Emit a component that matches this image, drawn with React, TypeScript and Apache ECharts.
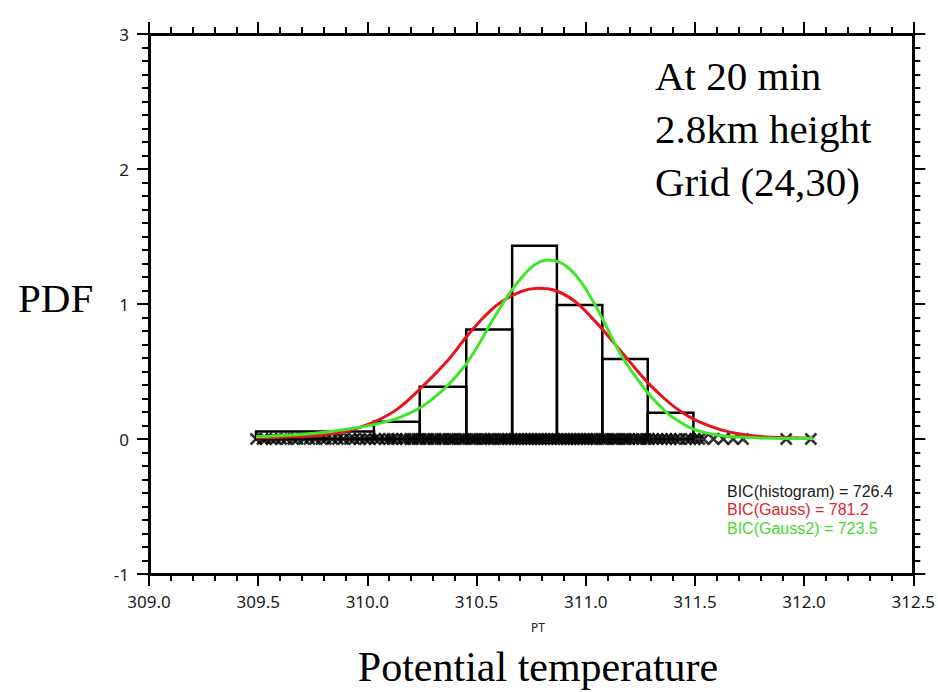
import React, { useEffect, useRef } from "react";
import * as echarts from "echarts";

// Histogram bins: [left edge, right edge, density]
const histBins: number[][] = [
  [309.49, 310.03, 0.055],
  [310.03, 310.24, 0.128],
  [310.24, 310.453, 0.387],
  [310.453, 310.663, 0.812],
  [310.663, 310.868, 1.432],
  [310.868, 311.076, 0.993],
  [311.076, 311.284, 0.593],
  [311.284, 311.493, 0.195],
];

// Single Gaussian fit (red)
const gaussCurve: number[][] = [
  [309.49, 0.01], [309.6, 0.013], [309.76, 0.024], [309.85, 0.042], [309.92, 0.064],
  [310.04, 0.133], [310.14, 0.225], [310.25, 0.385], [310.37, 0.585], [310.45, 0.75],
  [310.52, 0.88], [310.6, 1.0], [310.7, 1.09], [310.78, 1.116], [310.86, 1.1],
  [310.95, 1.02], [311.05, 0.86], [311.13, 0.71], [311.2, 0.575], [311.28, 0.425],
  [311.36, 0.3], [311.43, 0.21], [311.51, 0.135], [311.62, 0.068], [311.72, 0.033],
  [311.85, 0.013], [312.04, 0.006],
];

// Two-component Gaussian mixture fit (green)
const gauss2Curve: number[][] = [
  [309.49, 0.017], [309.65, 0.03], [309.76, 0.042], [309.92, 0.076], [310.04, 0.11],
  [310.14, 0.155], [310.24, 0.23], [310.3, 0.3], [310.37, 0.4], [310.45, 0.55],
  [310.51, 0.7], [310.57, 0.87], [310.66, 1.1], [310.75, 1.27], [310.825, 1.326],
  [310.88, 1.31], [310.93, 1.255], [310.98, 1.16], [311.03, 1.03], [311.08, 0.88],
  [311.17, 0.6], [311.28, 0.35], [311.34, 0.245], [311.39, 0.17], [311.49, 0.075],
  [311.6, 0.03], [311.7, 0.014], [311.85, 0.005], [312.04, 0.003],
];

// Observed samples (rug marks on y = 0)
const samples: number[] = [
  309.49, 309.52, 309.535, 309.56, 309.58, 309.605, 309.63, 309.66, 309.68, 309.71,
  309.735, 309.76, 309.79, 309.81, 309.84, 309.865, 309.89, 309.92, 309.94, 309.965,
  309.99, 310.01, 310.035, 310.055, 310.08, 310.1, 310.115, 310.135, 310.16, 310.175,
  310.195, 310.21, 310.23, 310.245, 310.265, 310.28, 310.3, 310.315, 310.335, 310.35,
  310.37, 310.385, 310.4, 310.42, 310.435, 310.45, 310.47, 310.485, 310.5, 310.52,
  310.535, 310.55, 310.565, 310.58, 310.6, 310.615, 310.63, 310.645, 310.66, 310.675,
  310.69, 310.705, 310.72, 310.735, 310.75, 310.765, 310.78, 310.795, 310.81, 310.825,
  310.84, 310.855, 310.87, 310.885, 310.9, 310.915, 310.93, 310.945, 310.96, 310.975,
  310.99, 311.005, 311.02, 311.035, 311.05, 311.07, 311.085, 311.1, 311.12, 311.135,
  311.15, 311.17, 311.185, 311.2, 311.22, 311.24, 311.255, 311.275, 311.29, 311.31,
  311.33, 311.35, 311.37, 311.39, 311.41, 311.43, 311.46, 311.48, 311.5, 311.52,
  311.54, 311.585, 311.63, 311.675, 311.72, 311.918, 312.031,
];

const bicLines: string[] = [
  "BIC(histogram) = 726.4",
  "BIC(Gauss) = 781.2",
  "BIC(Gauss2) = 723.5",
];
const bicColors: string[] = ["#1a1a1a", "#e0262c", "#45d932"];
const annotation: string[] = ["At 20 min", "2.8km height", "Grid (24,30)"];

const tickFont = "'Noto Sans', 'Open Sans', sans-serif";
const bicFont = "'Liberation Sans', Arial, sans-serif";
const serifFont = "'Liberation Serif', 'DejaVu Serif', serif";

export default function App() {
  const ref = useRef<HTMLDivElement>(null);
  useEffect(() => {
    if (!ref.current) return;
    const chart = echarts.init(ref.current, undefined, { renderer: "svg" });

    const axisLine = { show: true, onZero: false, lineStyle: { color: "#000", width: 3 } };
    const axisTick = { show: true, length: 12, lineStyle: { color: "#000", width: 2 } };
    const labelStyle = { color: "#1a1a1a", fontSize: 17, fontFamily: tickFont };

    const xBase = {
      type: "value" as const,
      min: 309,
      max: 312.5,
      interval: 0.5,
      axisLine,
      axisTick,
      minorTick: { show: true, splitNumber: 5, length: 7, lineStyle: { color: "#000", width: 2 } },
      splitLine: { show: false },
      minorSplitLine: { show: false },
    };
    const yBase = {
      type: "value" as const,
      min: -1,
      max: 3,
      interval: 1,
      axisLine,
      axisTick,
      minorTick: { show: true, splitNumber: 10, length: 7, lineStyle: { color: "#000", width: 2 } },
      splitLine: { show: false },
      minorSplitLine: { show: false },
    };

    chart.setOption({
      animation: false,
      backgroundColor: "#fff",
      grid: { left: 149, right: 20, top: 34, bottom: 118, containLabel: false },
      xAxis: [
        {
          ...xBase,
          position: "bottom",
          axisLabel: { ...labelStyle, margin: 19, formatter: (v: number) => v.toFixed(1) },
        },
        { ...xBase, position: "top", axisLabel: { show: false } },
      ],
      yAxis: [
        {
          ...yBase,
          position: "left",
          axisLabel: { ...labelStyle, margin: 20, formatter: (v: number) => String(v) },
        },
        { ...yBase, position: "right", axisLabel: { show: false } },
      ],
      series: [
        {
          type: "custom",
          name: "histogram",
          xAxisIndex: 0,
          yAxisIndex: 0,
          z: 2,
          encode: { x: [0, 1], y: 2 },
          data: histBins,
          renderItem: (params: any, api: any) => {
            const p0 = api.coord([api.value(0), api.value(2)]);
            const p1 = api.coord([api.value(1), 0]);
            return {
              type: "rect",
              shape: { x: p0[0], y: p0[1], width: p1[0] - p0[0], height: p1[1] - p0[1] },
              style: { fill: "none", stroke: "#000", lineWidth: 2.5 },
            };
          },
        },
        {
          type: "scatter",
          name: "samples",
          xAxisIndex: 0,
          yAxisIndex: 0,
          z: 3,
          symbol: "path://M0,0L10,10M10,0L0,10",
          symbolSize: 11,
          itemStyle: { color: "none", borderColor: "#000", borderWidth: 2.6 },
          data: samples.map((v) => [v, 0]),
        },
        {
          type: "line",
          name: "Gauss",
          xAxisIndex: 0,
          yAxisIndex: 0,
          z: 4,
          smooth: 0.35,
          showSymbol: false,
          lineStyle: { color: "#e8141c", width: 3 },
          data: gaussCurve,
        },
        {
          type: "line",
          name: "Gauss2",
          xAxisIndex: 0,
          yAxisIndex: 0,
          z: 5,
          smooth: 0.35,
          showSymbol: false,
          lineStyle: { color: "#3fe62a", width: 3 },
          data: gauss2Curve,
        },
      ],
      graphic: [
        {
          type: "text",
          left: 655,
          top: 49,
          style: {
            text: annotation.join("\n"),
            font: `41px ${serifFont}`,
            lineHeight: 53,
            fill: "#000",
          },
        },
        {
          type: "text",
          x: 18,
          y: 298,
          style: {
            text: "PDF",
            font: `41px ${serifFont}`,
            fill: "#000",
            verticalAlign: "middle",
          },
        },
        {
          type: "text",
          x: 538,
          y: 667,
          style: {
            text: "Potential temperature",
            font: `42px ${serifFont}`,
            fill: "#000",
            align: "center",
            verticalAlign: "middle",
          },
        },
        {
          type: "text",
          x: 538,
          y: 627,
          style: {
            text: "PT",
            font: `12px ${tickFont}`,
            fill: "#222",
            align: "center",
            verticalAlign: "middle",
          },
        },
        ...bicLines.map((t, i) => ({
          type: "text",
          x: 727,
          y: 491 + i * 18.5,
          style: {
            text: t,
            font: `16px ${bicFont}`,
            fill: bicColors[i],
            verticalAlign: "middle",
          },
        })),
      ],
    });
    return () => chart.dispose();
  }, []);

  return (
    <div
      ref={ref}
      style={{ position: "absolute", left: 0, top: 0, width: 938, height: 692, background: "#fff" }}
    />
  );
}
